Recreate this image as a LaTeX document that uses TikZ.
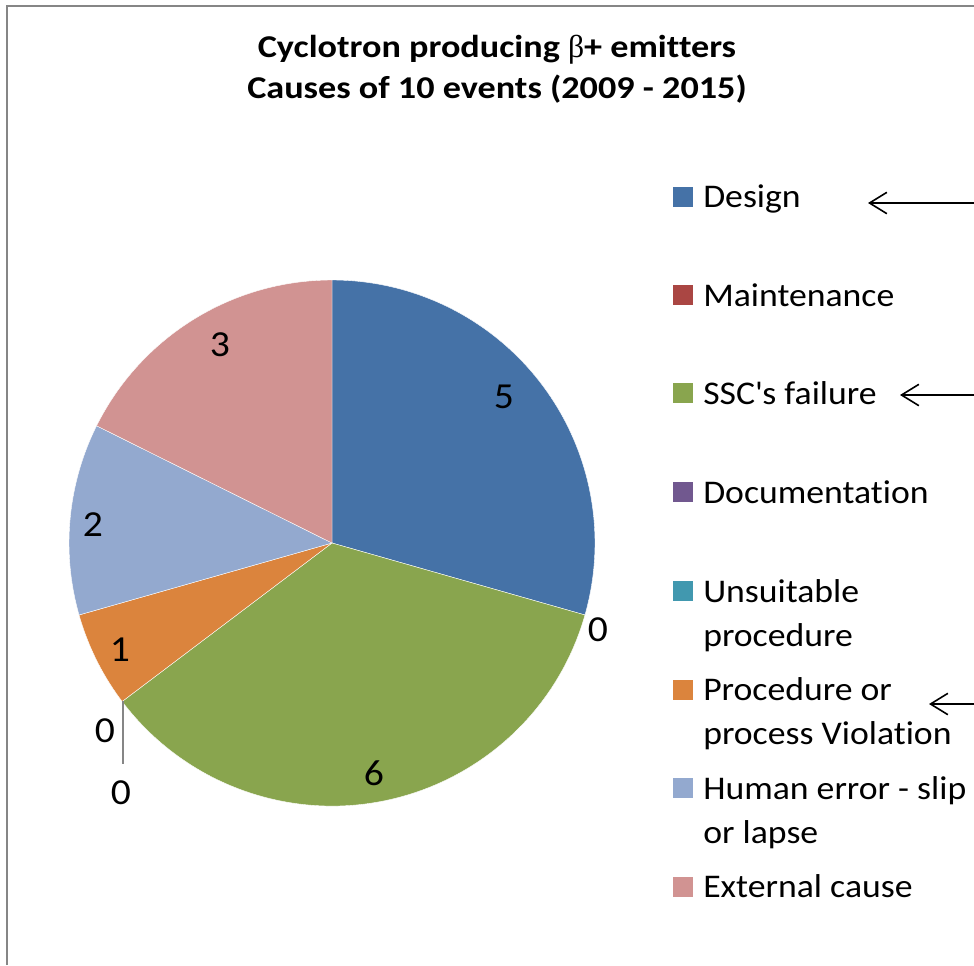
\documentclass[tikz,border=0pt]{standalone}
\usepackage{fontspec}
\setmainfont{Carlito}[Ligatures=NoCommon, FakeStretch=1.08]
\newfontfamily\titlefont{Carlito}[Ligatures=NoCommon, FakeStretch=1.14]
\newfontfamily\greekfont{Liberation Serif}
\usetikzlibrary{arrows.meta}
\definecolor{cDesign}{HTML}{4572A7}
\definecolor{cMaint}{HTML}{AA4643}
\definecolor{cSSC}{HTML}{89A54E}
\definecolor{cDoc}{HTML}{71588F}
\definecolor{cUnsuit}{HTML}{4198AF}
\definecolor{cProc}{HTML}{DB843D}
\definecolor{cHuman}{HTML}{93A9CF}
\definecolor{cExt}{HTML}{D19392}
\definecolor{frame}{HTML}{868686}
\tikzset{
  slice/.style={draw=white, line width=0.3pt},
  lbl/.style={inner sep=0pt, font=\fontsize{27.5}{32}\selectfont},
  key/.style={minimum size=15pt, inner sep=0pt, draw=none},
  legtext/.style={anchor=base west, inner sep=0pt, align=left, font=\fontsize{24.8}{33}\selectfont},
  pointer/.style={line width=1.2pt, -{Straight Barb[length=13pt,width=16pt,line width=1.2pt]}},
}
\begin{document}
\begin{tikzpicture}[x=0.75pt,y=-0.75pt]
\useasboundingbox (0,0) rectangle (974,965);
\draw[frame, line width=1.2pt] (7,965) -- (7,6) -- (974,6);
\node[align=center, inner sep=0pt, anchor=base, font=\titlefont\bfseries\fontsize{23.8}{30.75}\selectfont] (title) at (497,98)
  {Cyclotron producing {\greekfont\mdseries β}+ emitters\\Causes of 10 events (2009 - 2015)};
\coordinate (c) at (332,543);
\fill[cDesign, slice] (c) -- +(-90:263) arc[start angle=-90, end angle=15.882, radius=263] -- cycle;
\fill[cSSC, slice] (c) -- +(15.882:263) arc[start angle=15.882, end angle=142.941, radius=263] -- cycle;
\fill[cProc, slice] (c) -- +(142.941:263) arc[start angle=142.941, end angle=164.118, radius=263] -- cycle;
\fill[cHuman, slice] (c) -- +(164.118:263) arc[start angle=164.118, end angle=206.471, radius=263] -- cycle;
\fill[cExt, slice] (c) -- +(206.471:263) arc[start angle=206.471, end angle=270, radius=263] -- cycle;
\node[lbl] (l5) at (504,397) {5};
\node[lbl] (l6) at (374,773) {6};
\node[lbl] (l1) at (120,650) {1};
\node[lbl] (l2) at (93,525) {2};
\node[lbl] (l3) at (220,345) {3};
\node[lbl] (l0a) at (598,630) {0};
\node[lbl] (l0b) at (105,731) {0};
\node[lbl] (l0c) at (121,793) {0};
\coordinate (lead1) at (123,701);
\coordinate (lead2) at (123,764);
\draw[frame, line width=0.8pt] (lead1) -- (lead2);
% legend
\node[key, fill=cDesign] (kDesign) at (683,197) {};
\node[legtext] (tDesign) at (703,207) {Design};
\node[key, fill=cMaint] (kMaint) at (683,295) {};
\node[legtext] (tMaint) at (703,306) {Maintenance};
\node[key, fill=cSSC] (kSSC) at (683,393) {};
\node[legtext] (tSSC) at (703,404) {SSC\textquotesingle s failure};
\node[key, fill=cDoc] (kDoc) at (683,492) {};
\node[legtext] (tDoc) at (703,503) {Documentation};
\node[key, fill=cUnsuit] (kUnsuit) at (683,591) {};
\node[legtext] (tUnsuit) at (703,646) {Unsuitable\\procedure};
\node[key, fill=cProc] (kProc) at (683,690) {};
\node[legtext] (tProc) at (703,744) {Procedure or\\process Violation};
\node[key, fill=cHuman] (kHuman) at (683,788) {};
\node[legtext] (tHuman) at (703,843) {Human error - slip\\or lapse};
\node[key, fill=cExt] (kExt) at (683,887) {};
\node[legtext] (tExt) at (703,897) {External cause};
% arrows
\coordinate (aDs) at (974,203);
\coordinate (aDe) at (868,203);
\coordinate (aSs) at (974,395);
\coordinate (aSe) at (900,395);
\coordinate (aPs) at (974,704);
\coordinate (aPe) at (929,704);
\draw[pointer] (aDs) -- (aDe);
\draw[pointer] (aSs) -- (aSe);
\draw[pointer] (aPs) -- (aPe);
\end{tikzpicture}
\end{document}
